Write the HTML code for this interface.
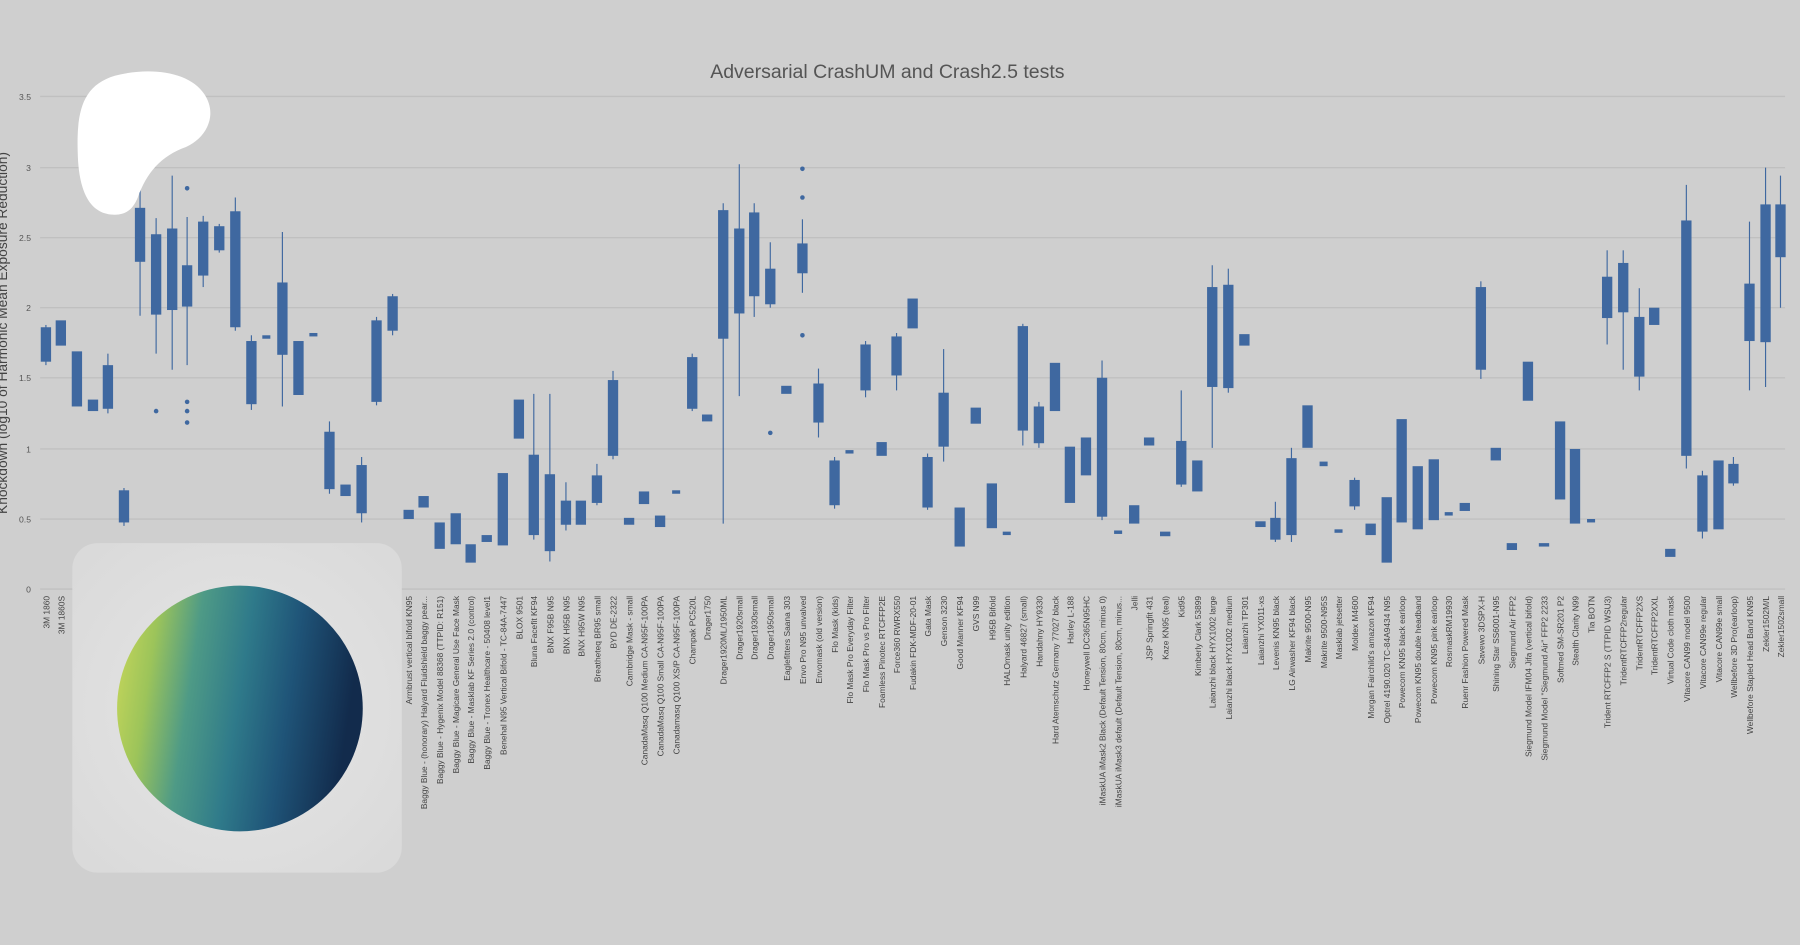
<!DOCTYPE html>
<html><head><meta charset="utf-8"><style>
html,body{margin:0;padding:0;background:#cfcfcf;}
svg{display:block}
</style></head><body>
<svg width="1800" height="945" viewBox="0 0 1568 823" preserveAspectRatio="none" xmlns="http://www.w3.org/2000/svg" font-family="Liberation Sans, sans-serif">
<defs>
<linearGradient id="cg" x1="0" y1="0" x2="1" y2="0.15">
<stop offset="0" stop-color="#cdd95a"/><stop offset="0.18" stop-color="#9cc45a"/><stop offset="0.35" stop-color="#4e9a86"/><stop offset="0.55" stop-color="#2f7a8a"/><stop offset="0.75" stop-color="#1f5478"/><stop offset="1" stop-color="#122b4c"/>
</linearGradient>
<radialGradient id="pg" cx="0.5" cy="0.5" r="0.7"><stop offset="0" stop-color="#e6e6e6"/><stop offset="1" stop-color="#d9d9d9"/></radialGradient>
</defs>
<rect width="1568" height="823" fill="#cfcfcf"/>
<g stroke="#c0c0c0" stroke-width="1.2">
<line x1="35" x2="1555" y1="84" y2="84"/><line x1="35" x2="1555" y1="146" y2="146"/><line x1="35" x2="1555" y1="207" y2="207"/><line x1="35" x2="1555" y1="268" y2="268"/><line x1="35" x2="1555" y1="329" y2="329"/><line x1="35" x2="1555" y1="391" y2="391"/><line x1="35" x2="1555" y1="452" y2="452"/><line x1="35" x2="1555" y1="513" y2="513"/>
</g>
<g font-size="7.5" fill="#555" text-anchor="end">
<text x="27" y="87">3.5</text><text x="27" y="149">3</text><text x="27" y="210">2.5</text><text x="27" y="271">2</text><text x="27" y="332">1.5</text><text x="27" y="394">1</text><text x="27" y="455">0.5</text><text x="27" y="516">0</text>
</g>
<text x="773" y="68" font-size="17" fill="#555" text-anchor="middle">Adversarial CrashUM and Crash2.5 tests</text>
<text transform="translate(6,290) rotate(-90)" font-size="12" fill="#444" text-anchor="middle">Knockdown (log10 of Harmonic Mean Exposure Reduction)</text>
<g stroke="#3f68a0" stroke-width="1">
<line x1="40" x2="40" y1="283" y2="318"/><line x1="94" x2="94" y1="308" y2="360"/><line x1="108" x2="108" y1="425" y2="458"/><line x1="122" x2="122" y1="160" y2="275"/><line x1="136" x2="136" y1="190" y2="308"/><line x1="150" x2="150" y1="153" y2="322"/><line x1="163" x2="163" y1="189" y2="318"/><line x1="177" x2="177" y1="188" y2="250"/><line x1="191" x2="191" y1="195" y2="220"/><line x1="205" x2="205" y1="172" y2="288"/><line x1="219" x2="219" y1="292" y2="357"/><line x1="246" x2="246" y1="202" y2="354"/><line x1="287" x2="287" y1="367" y2="430"/><line x1="315" x2="315" y1="398" y2="455"/><line x1="328" x2="328" y1="276" y2="353"/><line x1="342" x2="342" y1="256" y2="292"/><line x1="465" x2="465" y1="343" y2="470"/><line x1="479" x2="479" y1="343" y2="489"/><line x1="493" x2="493" y1="420" y2="462"/><line x1="520" x2="520" y1="404" y2="440"/><line x1="534" x2="534" y1="323" y2="400"/><line x1="603" x2="603" y1="308" y2="358"/><line x1="630" x2="630" y1="177" y2="456"/><line x1="644" x2="644" y1="143" y2="345"/><line x1="657" x2="657" y1="177" y2="276"/><line x1="671" x2="671" y1="211" y2="268"/><line x1="699" x2="699" y1="191" y2="255"/><line x1="713" x2="713" y1="321" y2="381"/><line x1="727" x2="727" y1="398" y2="443"/><line x1="754" x2="754" y1="297" y2="346"/><line x1="781" x2="781" y1="290" y2="340"/><line x1="808" x2="808" y1="395" y2="444"/><line x1="822" x2="822" y1="304" y2="402"/><line x1="891" x2="891" y1="282" y2="388"/><line x1="905" x2="905" y1="350" y2="390"/><line x1="960" x2="960" y1="314" y2="453"/><line x1="1029" x2="1029" y1="340" y2="424"/><line x1="1056" x2="1056" y1="231" y2="390"/><line x1="1070" x2="1070" y1="234" y2="342"/><line x1="1111" x2="1111" y1="437" y2="472"/><line x1="1125" x2="1125" y1="390" y2="472"/><line x1="1180" x2="1180" y1="416" y2="444"/><line x1="1290" x2="1290" y1="245" y2="330"/><line x1="1400" x2="1400" y1="218" y2="300"/><line x1="1414" x2="1414" y1="218" y2="322"/><line x1="1428" x2="1428" y1="251" y2="340"/><line x1="1469" x2="1469" y1="161" y2="408"/><line x1="1483" x2="1483" y1="410" y2="469"/><line x1="1510" x2="1510" y1="398" y2="423"/><line x1="1524" x2="1524" y1="193" y2="340"/><line x1="1538" x2="1538" y1="146" y2="337"/><line x1="1551" x2="1551" y1="153" y2="268"/>
</g>
<g fill="#3f68a0">
<circle cx="136" cy="358" r="2"/><circle cx="163" cy="164" r="2"/><circle cx="163" cy="350" r="2"/><circle cx="163" cy="358" r="2"/><circle cx="163" cy="368" r="2"/><circle cx="671" cy="377" r="2"/><circle cx="699" cy="147" r="2"/><circle cx="699" cy="172" r="2"/><circle cx="699" cy="292" r="2"/>
<rect x="35.5" y="285" width="9" height="30"/><rect x="48.5" y="279" width="9" height="22"/><rect x="62.5" y="306" width="9" height="48"/><rect x="76.5" y="348" width="9" height="10"/><rect x="89.5" y="318" width="9" height="38"/><rect x="103.5" y="427" width="9" height="28"/><rect x="117.5" y="181" width="9" height="47"/><rect x="131.5" y="204" width="9" height="70"/><rect x="145.5" y="199" width="9" height="71"/><rect x="158.5" y="231" width="9" height="36"/><rect x="172.5" y="193" width="9" height="47"/><rect x="186.5" y="197" width="9" height="21"/><rect x="200.5" y="184" width="9" height="101"/><rect x="214.5" y="297" width="9" height="55"/><rect x="228.5" y="292" width="7" height="3"/><rect x="241.5" y="246" width="9" height="63"/><rect x="255.5" y="297" width="9" height="47"/><rect x="269.5" y="290" width="7" height="3"/><rect x="282.5" y="376" width="9" height="50"/><rect x="296.5" y="422" width="9" height="10"/><rect x="310.5" y="405" width="9" height="42"/><rect x="323.5" y="279" width="9" height="71"/><rect x="337.5" y="258" width="9" height="30"/><rect x="351.5" y="444" width="9" height="8"/><rect x="364.5" y="432" width="9" height="10"/><rect x="378.5" y="455" width="9" height="23"/><rect x="392.5" y="447" width="9" height="27"/><rect x="405.5" y="474" width="9" height="16"/><rect x="419.5" y="466" width="9" height="6"/><rect x="433.5" y="412" width="9" height="63"/><rect x="447.5" y="348" width="9" height="34"/><rect x="460.5" y="396" width="9" height="70"/><rect x="474.5" y="413" width="9" height="67"/><rect x="488.5" y="436" width="9" height="21"/><rect x="501.5" y="436" width="9" height="21"/><rect x="515.5" y="414" width="9" height="24"/><rect x="529.5" y="331" width="9" height="66"/><rect x="543.5" y="451" width="9" height="6"/><rect x="556.5" y="428" width="9" height="11"/><rect x="570.5" y="449" width="9" height="10"/><rect x="585.5" y="427" width="7" height="3"/><rect x="598.5" y="311" width="9" height="45"/><rect x="611.5" y="361" width="9" height="6"/><rect x="625.5" y="183" width="9" height="112"/><rect x="639.5" y="199" width="9" height="74"/><rect x="652.5" y="185" width="9" height="73"/><rect x="666.5" y="234" width="9" height="31"/><rect x="680.5" y="336" width="9" height="7"/><rect x="694.5" y="212" width="9" height="26"/><rect x="708.5" y="334" width="9" height="34"/><rect x="722.5" y="401" width="9" height="39"/><rect x="736.5" y="392" width="7" height="3"/><rect x="749.5" y="300" width="9" height="40"/><rect x="763.5" y="385" width="9" height="12"/><rect x="776.5" y="293" width="9" height="34"/><rect x="790.5" y="260" width="9" height="26"/><rect x="803.5" y="398" width="9" height="44"/><rect x="817.5" y="342" width="9" height="47"/><rect x="831.5" y="442" width="9" height="34"/><rect x="845.5" y="355" width="9" height="14"/><rect x="859.5" y="421" width="9" height="39"/><rect x="873.5" y="463" width="7" height="3"/><rect x="886.5" y="284" width="9" height="91"/><rect x="900.5" y="354" width="9" height="32"/><rect x="914.5" y="316" width="9" height="42"/><rect x="927.5" y="389" width="9" height="49"/><rect x="941.5" y="381" width="9" height="33"/><rect x="955.5" y="329" width="9" height="121"/><rect x="970.5" y="462" width="7" height="3"/><rect x="983.5" y="440" width="9" height="16"/><rect x="996.5" y="381" width="9" height="7"/><rect x="1010.5" y="463" width="9" height="4"/><rect x="1024.5" y="384" width="9" height="38"/><rect x="1038.5" y="401" width="9" height="27"/><rect x="1051.5" y="250" width="9" height="87"/><rect x="1065.5" y="248" width="9" height="90"/><rect x="1079.5" y="291" width="9" height="10"/><rect x="1093.5" y="454" width="9" height="5"/><rect x="1106.5" y="451" width="9" height="19"/><rect x="1120.5" y="399" width="9" height="67"/><rect x="1134.5" y="353" width="9" height="37"/><rect x="1149.5" y="402" width="7" height="4"/><rect x="1162.5" y="461" width="7" height="3"/><rect x="1175.5" y="418" width="9" height="23"/><rect x="1189.5" y="456" width="9" height="10"/><rect x="1203.5" y="433" width="9" height="57"/><rect x="1216.5" y="365" width="9" height="90"/><rect x="1230.5" y="406" width="9" height="55"/><rect x="1244.5" y="400" width="9" height="53"/><rect x="1258.5" y="446" width="7" height="3"/><rect x="1271.5" y="438" width="9" height="7"/><rect x="1285.5" y="250" width="9" height="72"/><rect x="1298.5" y="390" width="9" height="11"/><rect x="1312.5" y="473" width="9" height="6"/><rect x="1326.5" y="315" width="9" height="34"/><rect x="1340.5" y="473" width="9" height="3"/><rect x="1354.5" y="367" width="9" height="68"/><rect x="1367.5" y="391" width="9" height="65"/><rect x="1382.5" y="452" width="7" height="3"/><rect x="1395.5" y="241" width="9" height="36"/><rect x="1409.5" y="229" width="9" height="43"/><rect x="1423.5" y="276" width="9" height="52"/><rect x="1436.5" y="268" width="9" height="15"/><rect x="1450.5" y="478" width="9" height="7"/><rect x="1464.5" y="192" width="9" height="205"/><rect x="1478.5" y="414" width="9" height="49"/><rect x="1492.5" y="401" width="9" height="60"/><rect x="1505.5" y="404" width="9" height="17"/><rect x="1519.5" y="247" width="9" height="50"/><rect x="1533.5" y="178" width="9" height="120"/><rect x="1546.5" y="178" width="9" height="46"/>
</g>
<g font-size="7.3" fill="#444" text-anchor="end">
<text transform="translate(43,519) rotate(-90)">3M 1860</text>
<text transform="translate(56,519) rotate(-90)">3M 1860S</text>
<text transform="translate(359,519) rotate(-90)">Armbrust vertical bifold KN95</text>
<text transform="translate(372,519) rotate(-90)">Baggy Blue - (honorary) Halyard Fluidshield baggy pear...</text>
<text transform="translate(386,519) rotate(-90)">Baggy Blue - Hygenix Model 88368 (TTPID: R151)</text>
<text transform="translate(400,519) rotate(-90)">Baggy Blue - Magicare General Use Face Mask</text>
<text transform="translate(413,519) rotate(-90)">Baggy Blue - Masklab KF Series 2.0 (control)</text>
<text transform="translate(427,519) rotate(-90)">Baggy Blue - Tronex Healthcare - 50408 level1</text>
<text transform="translate(441,519) rotate(-90)">Benehal N95 Vertical Bifold - TC-84A-7447</text>
<text transform="translate(455,519) rotate(-90)">BLOX 9501</text>
<text transform="translate(468,519) rotate(-90)">Bluna Facefit KF94</text>
<text transform="translate(482,519) rotate(-90)">BNX F95B N95</text>
<text transform="translate(496,519) rotate(-90)">BNX H95B N95</text>
<text transform="translate(509,519) rotate(-90)">BNX H95W N95</text>
<text transform="translate(523,519) rotate(-90)">Breatheteq BR95 small</text>
<text transform="translate(537,519) rotate(-90)">BYD DE-2322</text>
<text transform="translate(551,519) rotate(-90)">Cambridge Mask - small</text>
<text transform="translate(564,519) rotate(-90)">CanadaMasq Q100 Medium CA-N95F-100PA</text>
<text transform="translate(578,519) rotate(-90)">CanadaMasq Q100 Small CA-N95F-100PA</text>
<text transform="translate(592,519) rotate(-90)">Canadamasq Q100 XS/P CA-N95F-100PA</text>
<text transform="translate(606,519) rotate(-90)">Champak PC520L</text>
<text transform="translate(619,519) rotate(-90)">Drager1750</text>
<text transform="translate(633,519) rotate(-90)">Drager1920ML/1950ML</text>
<text transform="translate(647,519) rotate(-90)">Drager1920small</text>
<text transform="translate(660,519) rotate(-90)">Drager1930small</text>
<text transform="translate(674,519) rotate(-90)">Drager1950small</text>
<text transform="translate(688,519) rotate(-90)">Eaglefitters Saana 303</text>
<text transform="translate(702,519) rotate(-90)">Envo Pro N95 unvalved</text>
<text transform="translate(716,519) rotate(-90)">Envomask (old version)</text>
<text transform="translate(730,519) rotate(-90)">Flo Mask (kids)</text>
<text transform="translate(743,519) rotate(-90)">Flo Mask Pro Everyday Filter</text>
<text transform="translate(757,519) rotate(-90)">Flo Mask Pro vs Pro Filter</text>
<text transform="translate(771,519) rotate(-90)">Foamless Pinotec RTCFFP2E</text>
<text transform="translate(784,519) rotate(-90)">Force360 RWRX550</text>
<text transform="translate(798,519) rotate(-90)">Fudakin FDK-MDF-20-01</text>
<text transform="translate(811,519) rotate(-90)">Gata Mask</text>
<text transform="translate(825,519) rotate(-90)">Genson 3230</text>
<text transform="translate(839,519) rotate(-90)">Good Manner KF94</text>
<text transform="translate(853,519) rotate(-90)">GVS N99</text>
<text transform="translate(867,519) rotate(-90)">H95B Bifold</text>
<text transform="translate(880,519) rotate(-90)">HALOmask unity edition</text>
<text transform="translate(894,519) rotate(-90)">Halyard 46827 (small)</text>
<text transform="translate(908,519) rotate(-90)">Handahny HY9330</text>
<text transform="translate(922,519) rotate(-90)">Hard Atemschutz Germany 77027 black</text>
<text transform="translate(935,519) rotate(-90)">Harley L-188</text>
<text transform="translate(949,519) rotate(-90)">Honeywell DC365N95HC</text>
<text transform="translate(963,519) rotate(-90)">iMaskUA iMask2 Black (Default Tension, 80cm, minus 0)</text>
<text transform="translate(977,519) rotate(-90)">iMaskUA iMask3 default (Default Tension, 80cm, minus...</text>
<text transform="translate(991,519) rotate(-90)">Jelli</text>
<text transform="translate(1004,519) rotate(-90)">JSP Springfit 431</text>
<text transform="translate(1018,519) rotate(-90)">Kaze KN95 (teal)</text>
<text transform="translate(1032,519) rotate(-90)">Kid95</text>
<text transform="translate(1046,519) rotate(-90)">Kimberly Clark 53899</text>
<text transform="translate(1059,519) rotate(-90)">Laianzhi black HYX1002 large</text>
<text transform="translate(1073,519) rotate(-90)">Laianzhi black HYX1002 medium</text>
<text transform="translate(1087,519) rotate(-90)">Laianzhi TP301</text>
<text transform="translate(1101,519) rotate(-90)">Laianzhi YX011-xs</text>
<text transform="translate(1114,519) rotate(-90)">Levenis KN95 black</text>
<text transform="translate(1128,519) rotate(-90)">LG Airwasher KF94 black</text>
<text transform="translate(1142,519) rotate(-90)">Makrite 9500-N95</text>
<text transform="translate(1156,519) rotate(-90)">Makrite 9500-N95S</text>
<text transform="translate(1169,519) rotate(-90)">Masklab jetsetter</text>
<text transform="translate(1183,519) rotate(-90)">Moldex M4600</text>
<text transform="translate(1197,519) rotate(-90)">Morgan Fairchild's amazon KF94</text>
<text transform="translate(1211,519) rotate(-90)">Optrel 4190.020 TC-84A9434 N95</text>
<text transform="translate(1224,519) rotate(-90)">Powecom KN95 black earloop</text>
<text transform="translate(1238,519) rotate(-90)">Powecom KN95 double headband</text>
<text transform="translate(1252,519) rotate(-90)">Powecom KN95 pink earloop</text>
<text transform="translate(1265,519) rotate(-90)">RosmaskRM19930</text>
<text transform="translate(1279,519) rotate(-90)">Ruenr Fashion Powered Mask</text>
<text transform="translate(1293,519) rotate(-90)">Savewo 3DSPX-H</text>
<text transform="translate(1306,519) rotate(-90)">Shining Star SS6001-N95</text>
<text transform="translate(1320,519) rotate(-90)">Siegmund Air FFP2</text>
<text transform="translate(1334,519) rotate(-90)">Siegmund Model IFM04 Jifa (vertical bifold)</text>
<text transform="translate(1348,519) rotate(-90)">Siegmund Model "Siegmund Air" FFP2 2233</text>
<text transform="translate(1362,519) rotate(-90)">Softmed SM-SR201 P2</text>
<text transform="translate(1375,519) rotate(-90)">Stealth Clarity N99</text>
<text transform="translate(1389,519) rotate(-90)">Tia BOTN</text>
<text transform="translate(1403,519) rotate(-90)">Trident RTCFFP2 S (TTPID WSU3)</text>
<text transform="translate(1417,519) rotate(-90)">TridentRTCFFP2regular</text>
<text transform="translate(1431,519) rotate(-90)">TridentRTCFFP2XS</text>
<text transform="translate(1444,519) rotate(-90)">TridentRTCFFP2XXL</text>
<text transform="translate(1458,519) rotate(-90)">Virtual Code cloth mask</text>
<text transform="translate(1472,519) rotate(-90)">Vitacore CAN99 model 9500</text>
<text transform="translate(1486,519) rotate(-90)">Vitacore CAN99e regular</text>
<text transform="translate(1500,519) rotate(-90)">Vitacore CAN99e small</text>
<text transform="translate(1513,519) rotate(-90)">Wellbefore 3D Pro(earloop)</text>
<text transform="translate(1527,519) rotate(-90)">Wellbefore Stapled Head Band KN95</text>
<text transform="translate(1541,519) rotate(-90)">Zekler1502M/L</text>
<text transform="translate(1554,519) rotate(-90)">Zekler1502small</text>
</g>
<path d="M 100 187 C 80 187 70 170 68 140 C 66 100 70 75 100 66 C 130 58 165 62 178 82 C 190 100 180 120 162 128 C 140 136 128 150 120 172 C 116 182 110 187 100 187 Z" fill="#ffffff"/>
<rect x="63" y="473" width="287" height="287" rx="22" fill="url(#pg)"/>
<circle cx="209" cy="617" r="107" fill="url(#cg)"/>
</svg>
</body></html>
